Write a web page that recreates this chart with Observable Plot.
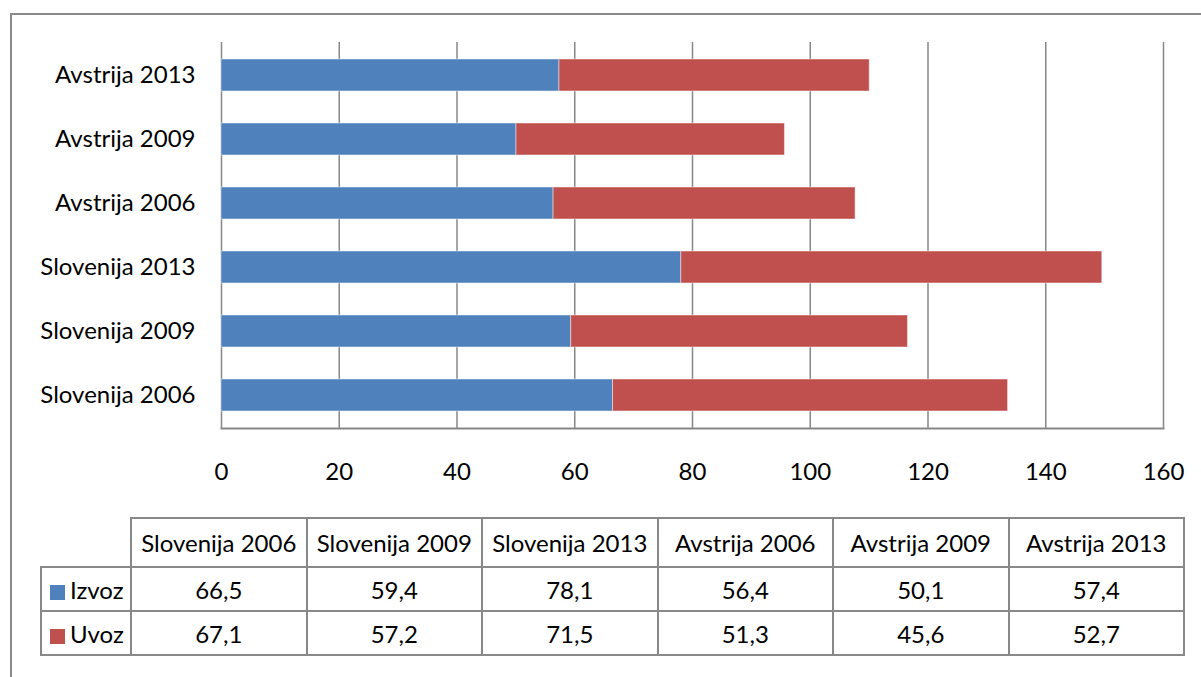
<!DOCTYPE html>
<html>
<head>
<meta charset="utf-8">
<script src="https://cdn.jsdelivr.net/npm/d3@7"></script>
<script src="https://cdn.jsdelivr.net/npm/@observablehq/plot@0.6"></script>
<style>
  html, body { margin: 0; padding: 0; background: #fff; }
  #wrap { position: relative; width: 1201px; height: 677px; overflow: hidden; background: #fff;
          font-family: Lato, "Open Sans", sans-serif; color: #000; }
  #frame { position: absolute; left: 10px; top: 13px; width: 1300px; height: 800px;
           border: 2px solid #8a8a8a; box-sizing: border-box; }
  #chart { position: absolute; left: 0; top: 0; }
  #tbl { position: absolute; left: 40px; top: 517px; border-collapse: collapse; table-layout: fixed;
         font-size: 24px; }
  #tbl td { border: 2px solid #888; text-align: center; padding: 0; white-space: nowrap; }
  #tbl tr.head td { height: 47px; }
  #tbl tr.row td { height: 42px; }
  #tbl td.blank { border-top: none; border-left: none; }
  #tbl td.key { text-align: left; padding-left: 8px; }
  .sw { display: inline-block; width: 15px; height: 15px; margin-right: 5px; vertical-align: -1px; }
</style>
</head>
<body>
<div id="wrap">
  <div id="frame"></div>
  <div id="chart"></div>
  <table id="tbl"></table>
</div>
<script>
// Izvoz / Uvoz by country and year
const categories = ["Slovenija 2006", "Slovenija 2009", "Slovenija 2013", "Avstrija 2006", "Avstrija 2009", "Avstrija 2013"];
const izvoz = [66.5, 59.4, 78.1, 56.4, 50.1, 57.4];
const uvoz = [67.1, 57.2, 71.5, 51.3, 45.6, 52.7];
const seriesNames = ["Izvoz", "Uvoz"];
const seriesColors = ["#4F81BD", "#C0504D"];
const xTicks = [0, 20, 40, 60, 80, 100, 120, 140, 160];

const seriesValues = [izvoz, uvoz];
const rows = seriesNames.flatMap((s, si) =>
  categories.map((c, ci) => ({category: c, series: s, value: seriesValues[si][ci]})));

const gray = "#878787";

const chart = Plot.plot({
  width: 1201,
  height: 500,
  marginLeft: 221,
  marginRight: 38,
  marginTop: 42,
  marginBottom: 72,
  style: {fontFamily: "Lato, 'Open Sans', sans-serif", fontSize: "24px", color: "#000", background: "transparent"},
  x: {domain: [0, 160], ticks: xTicks, label: null},
  y: {domain: categories.slice().reverse(), paddingInner: 0.5, paddingOuter: 0.25, label: null},
  color: {domain: seriesNames, range: seriesColors},
  marks: [
    Plot.gridX(xTicks, {stroke: gray, strokeOpacity: 1, strokeWidth: 1.5}),
    Plot.barX(rows, {x: "value", y: "category", fill: "series", stroke: "#fff", strokeOpacity: 0.45, strokeWidth: 1}),
    Plot.frame({anchor: "bottom", stroke: gray, strokeWidth: 2}),
    Plot.axisX(xTicks, {tickSize: 0, tickPadding: 34, fontSize: 24}),
    Plot.axisY({tickSize: 0, tickPadding: 26, fontSize: 24})
  ]
});
document.getElementById("chart").appendChild(chart);

// data table under the chart
const fmt = v => d3.format(".1f")(v).replace(".", ",");
const tbl = d3.select("#tbl");
const cg = tbl.append("colgroup");
cg.append("col").style("width", "90px");
categories.forEach(() => cg.append("col").style("width", "175.5px"));
const head = tbl.append("tr").attr("class", "head");
head.append("td").attr("class", "blank");
categories.forEach(c => head.append("td").text(c));
seriesNames.forEach((s, si) => {
  const tr = tbl.append("tr").attr("class", "row");
  const key = tr.append("td").attr("class", "key");
  key.append("span").attr("class", "sw").style("background", seriesColors[si]);
  key.append("span").text(s);
  seriesValues[si].forEach(v => tr.append("td").text(fmt(v)));
});
</script>
</body>
</html>
